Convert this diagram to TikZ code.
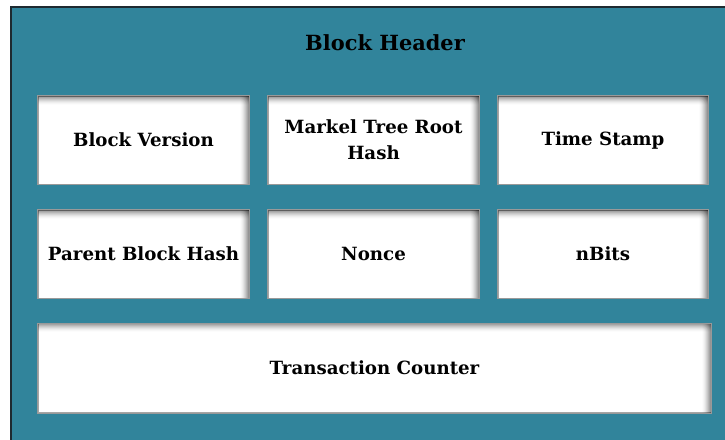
\documentclass[tikz,border=0pt]{standalone}
\usepackage{fontspec}
\setmainfont{DejaVu Serif}
\definecolor{headerteal}{HTML}{31849B}
\definecolor{framedark}{HTML}{1E2A30}
\tikzset{
  field/.style={fill=white, draw=black!35, line width=0.6pt, inner sep=0pt,
    font=\bfseries\fontsize{18.2}{20}\selectfont, align=center},
}
% white field with an inset shadow along its top and right edges
\newcommand{\fieldbox}[5]{%
  \node[field, minimum width=#3pt, minimum height=#4pt] (#1) at (#2) {#5};
  \begin{scope}
    \clip (#1.south west) rectangle (#1.north east);
    \foreach \k in {0,...,8} {
      \pgfmathsetmacro{\op}{0.1*(1-\k/9)}
      \fill[black, opacity=\op]
        (#1.north west) rectangle ([yshift=-\k pt-1pt]#1.north east);
      \fill[black, opacity=\op]
        ([xshift=-\k pt-1pt]#1.north east) rectangle (#1.south east);
    }
  \end{scope}
  \draw[black!40, line width=0.6pt] (#1.south west) rectangle (#1.north east);
}
\begin{document}
\begin{tikzpicture}[x=1pt, y=-1pt]
  \useasboundingbox (0,0) rectangle (725,439);
  % outer frame
  \fill[headerteal] (11,7) rectangle (730,445);
  \draw[framedark, line width=1.2pt] (11,445) -- (11,7) -- (730,7);
  \node[font=\bfseries\fontsize{20.9}{24}\selectfont] (title) at (385,43) {Block Header};
  % first row
  \fieldbox{bv}{143.5,140}{211}{88}{Block Version}
  \fieldbox{mr}{373.5,140}{211}{88}{Markel Tree Root\\[6pt]Hash}
  \fieldbox{ts}{603,140}{210}{88}{Time Stamp}
  % second row
  \fieldbox{pb}{143.5,254}{211}{88}{Parent Block Hash}
  \fieldbox{nc}{373.5,254}{211}{88}{Nonce}
  \fieldbox{nb}{603,254}{210}{88}{nBits}
  % bottom row
  \fieldbox{tc}{374.5,368}{673}{89}{Transaction Counter}
\end{tikzpicture}
\end{document}
